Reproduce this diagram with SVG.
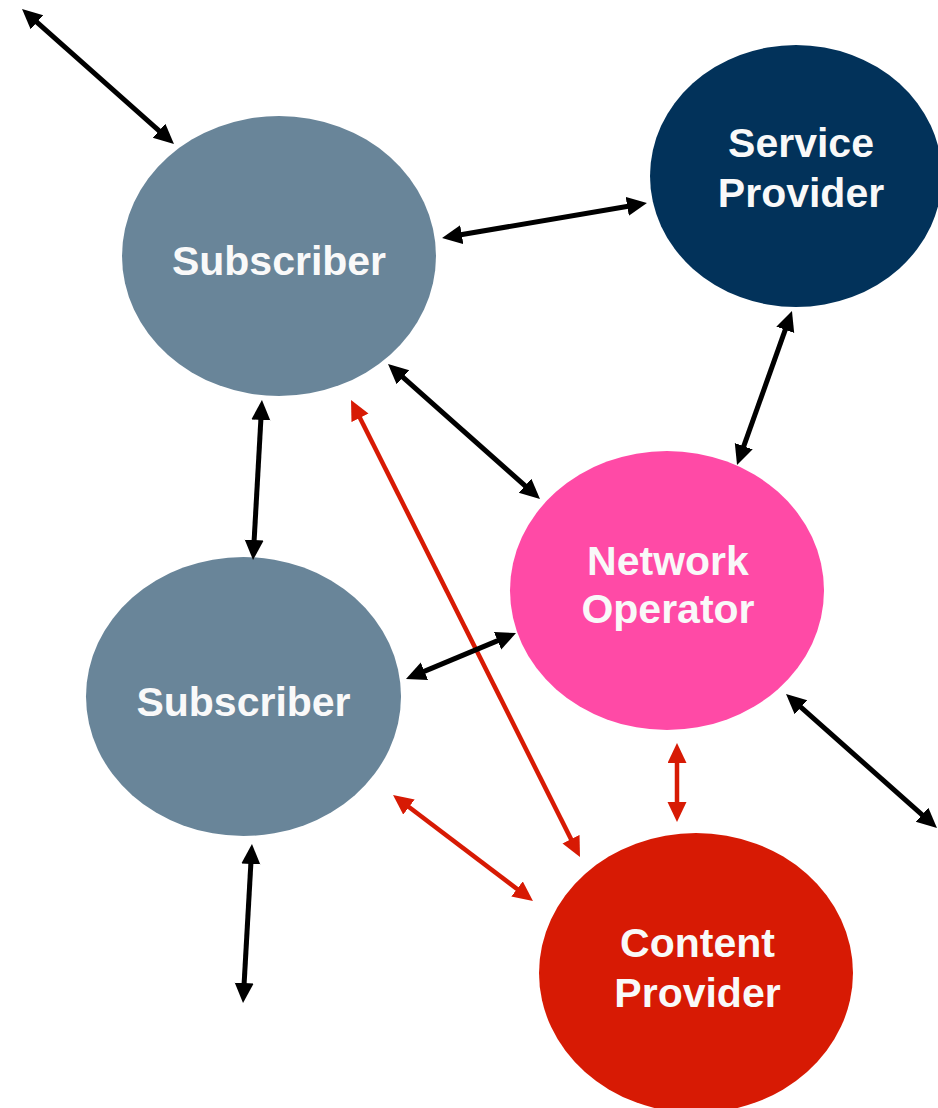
<svg xmlns="http://www.w3.org/2000/svg" width="938" height="1108" viewBox="0 0 938 1108">
<style>
.lbl{font-family:"Liberation Sans",Arial,Helvetica,sans-serif;font-weight:bold;font-size:41px;fill:#f9f9f9;text-anchor:middle}
.blk{stroke:#000;stroke-width:5;fill:none;marker-start:url(#ab);marker-end:url(#ab)}
.red{stroke:#D71A04;stroke-width:4.5;fill:none;marker-start:url(#ar);marker-end:url(#ar)}
</style>
<defs>
<marker id="ab" markerUnits="userSpaceOnUse" markerWidth="22" markerHeight="22" refX="10" refY="9.5" orient="auto-start-reverse"><path d="M0,0 L20,9.5 L0,19 z" fill="#000"/></marker>
<marker id="ar" markerUnits="userSpaceOnUse" markerWidth="22" markerHeight="22" refX="10" refY="9.5" orient="auto-start-reverse"><path d="M0,0 L20,9.5 L0,19 z" fill="#D71A04"/></marker>
</defs>
<rect width="938" height="1108" fill="#fff"/>
<g id="sub1"><ellipse cx="279" cy="256" rx="157" ry="140" fill="#698599"/><text class="lbl" x="279" y="275">Subscriber</text></g>
<g id="service"><ellipse cx="796" cy="176" rx="146" ry="131" fill="#02325A"/><text class="lbl" x="801" y="157">Service</text><text class="lbl" x="801" y="207">Provider</text></g>
<g id="network"><ellipse cx="667" cy="590.5" rx="157" ry="139.5" fill="#FF4AA6"/><text class="lbl" x="668" y="575">Network</text><text class="lbl" x="668" y="623">Operator</text></g>
<g id="sub2"><ellipse cx="243.5" cy="696.5" rx="157.5" ry="139.5" fill="#698599"/><text class="lbl" x="243.5" y="716">Subscriber</text></g>
<g id="content"><ellipse cx="696" cy="973" rx="157" ry="140" fill="#D71A04"/><text class="lbl" x="697.5" y="957">Content</text><text class="lbl" x="697.5" y="1007">Provider</text></g>
<g id="connectors">
<line class="blk" x1="29.5" y1="15.6" x2="166.5" y2="137.4"/>
<line class="blk" x1="451.9" y1="236.3" x2="637.1" y2="204.7"/>
<line class="blk" x1="788.6" y1="320.4" x2="740.4" y2="455.6"/>
<line class="blk" x1="395.5" y1="370.6" x2="532.5" y2="492.4"/>
<line class="red" x1="355.5" y1="408.9" x2="575.5" y2="848.1"/>
<line class="blk" x1="261.4" y1="410" x2="253.6" y2="550"/>
<line class="blk" x1="415.2" y1="675.1" x2="506.8" y2="636.9"/>
<line class="blk" x1="793.5" y1="700.6" x2="929.5" y2="821.4"/>
<line class="red" x1="677" y1="753" x2="677" y2="812"/>
<line class="red" x1="401" y1="801" x2="525" y2="895"/>
<line class="blk" x1="251.4" y1="854" x2="243.6" y2="993"/>
</g>
</svg>
